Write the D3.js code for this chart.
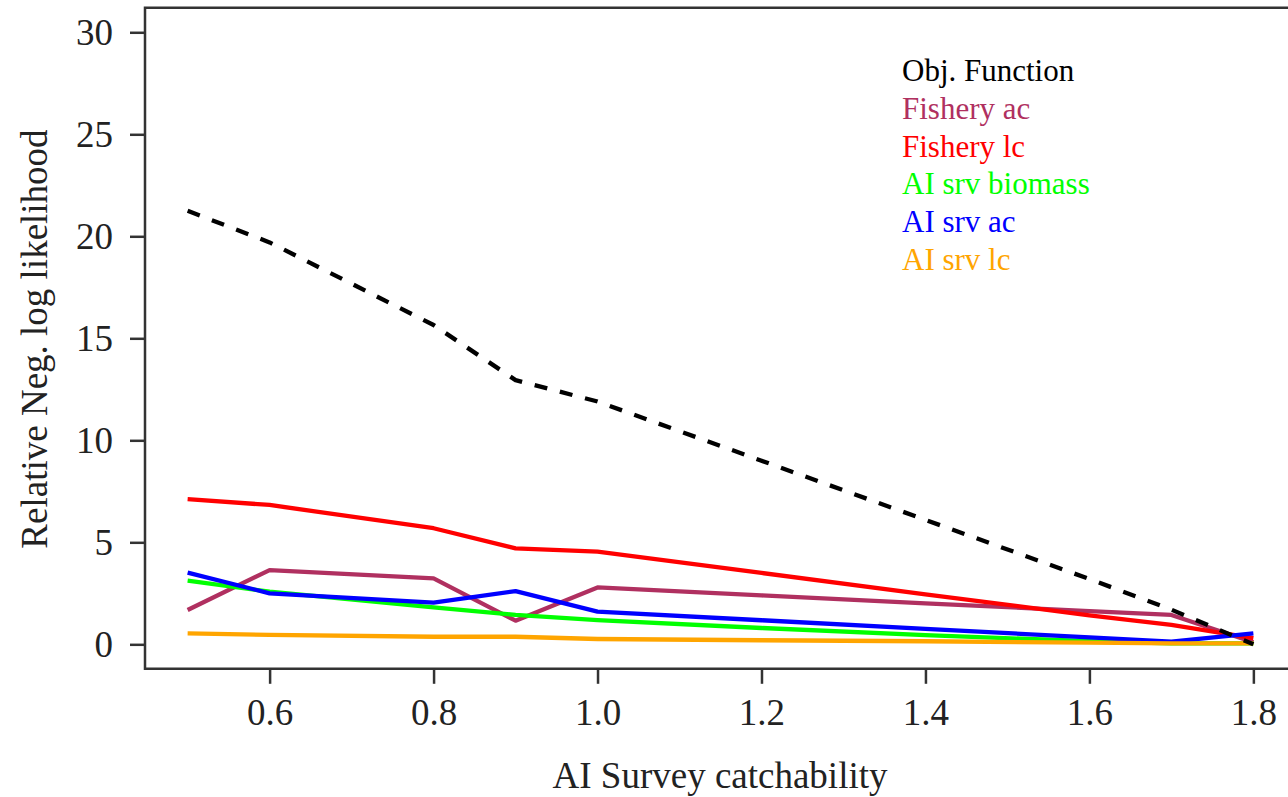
<!DOCTYPE html>
<html>
<head>
<meta charset="utf-8">
<script src="https://cdn.jsdelivr.net/npm/d3@7"></script>
<style>
  body { margin: 0; background: #fff; }
  text { font-family: "Liberation Serif", "Times New Roman", serif; }
</style>
</head>
<body>
<svg id="chart"></svg>
<script>
// catchability values (x)
const catchability = [0.5, 0.6, 0.8, 0.9, 1.0, 1.2, 1.4, 1.6, 1.7, 1.8];

// likelihood components
const objFunction = [21.25, 19.7, 15.65, 12.95, 11.9, 9.0, 6.1, 3.2, 1.7, 0.0];
const fisheryAc = [1.68, 3.64, 3.23, 1.16, 2.79, 2.40, 2.01, 1.63, 1.44, 0.1];
const fisheryLc = [7.12, 6.83, 5.69, 4.7, 4.54, 3.5, 2.45, 1.42, 0.95, 0.3];
const srvBiomass = [3.12, 2.58, 1.81, 1.44, 1.19, 0.8, 0.45, 0.15, 0.05, 0.05];
const srvAc = [3.51, 2.5, 2.04, 2.61, 1.6, 1.18, 0.76, 0.34, 0.13, 0.54];
const srvLc = [0.54, 0.46, 0.37, 0.37, 0.26, 0.2, 0.15, 0.08, 0.05, 0.05];

const seriesNames = ["Obj. Function", "Fishery ac", "Fishery lc", "AI srv biomass", "AI srv ac", "AI srv lc"];
const seriesColors = ["#000000", "#B03060", "#FF0000", "#00FF00", "#0000FF", "#FFA500"];

const xTicks = [0.6, 0.8, 1.0, 1.2, 1.4, 1.6, 1.8];
const yTicks = [0, 5, 10, 15, 20, 25, 30];

const width = 1288;
const height = 797;

const svg = d3.select("#chart")
  .attr("width", width)
  .attr("height", height);

// R style plot region, 4% padding around data range
const x = d3.scaleLinear().domain([0.448, 1.852]).range([145, 1296]);
const y = d3.scaleLinear().domain([-1.2, 31.2]).range([668.8, 7.8]);

const allSeries = [objFunction, fisheryAc, fisheryLc, srvBiomass, srvAc, srvLc];

const line = d3.line()
  .x((d, i) => x(catchability[i]))
  .y(d => y(d));

// draw coloured lines first, dashed objective function on top
const order = [1, 2, 3, 4, 5, 0];
order.forEach(k => {
  svg.append("path")
    .attr("d", line(allSeries[k]))
    .attr("fill", "none")
    .attr("stroke", seriesColors[k])
    .attr("stroke-width", 4.3)
    .attr("stroke-linejoin", "round")
    .attr("stroke-dasharray", k === 0 ? "13,13" : null);
});

// box (right side falls outside the image)
const frame = svg.append("g")
  .attr("stroke", "#333")
  .attr("stroke-width", 2.5)
  .attr("fill", "none");
frame.append("path")
  .attr("d", `M${x.range()[1]},${y.range()[1]}H${x.range()[0]}V${y.range()[0]}H${x.range()[1]}`);

// x axis
const xAxis = d3.axisBottom(x)
  .tickValues(xTicks)
  .tickFormat(d3.format(".1f"))
  .tickSize(15)
  .tickPadding(15);

const gx = svg.append("g")
  .attr("transform", `translate(0,${y.range()[0]})`)
  .call(xAxis);
gx.select(".domain").remove();
gx.selectAll("line").attr("stroke", "#333").attr("stroke-width", 2.5);
gx.selectAll("text").attr("font-size", 37).attr("fill", "#222")
  .attr("font-family", "Liberation Serif");

// y axis
const yAxis = d3.axisLeft(y)
  .tickValues(yTicks)
  .tickSize(15)
  .tickPadding(17);

const gy = svg.append("g")
  .attr("transform", `translate(${x.range()[0]},0)`)
  .call(yAxis);
gy.select(".domain").remove();
gy.selectAll("line").attr("stroke", "#333").attr("stroke-width", 2.5);
gy.selectAll("text").attr("font-size", 37).attr("fill", "#222")
  .attr("font-family", "Liberation Serif");

// axis titles
svg.append("text")
  .attr("x", 720)
  .attr("y", 788)
  .attr("text-anchor", "middle")
  .attr("font-size", 37)
  .attr("fill", "#222")
  .text("AI Survey catchability");

svg.append("text")
  .attr("transform", "translate(47,339) rotate(-90)")
  .attr("text-anchor", "middle")
  .attr("font-size", 37)
  .attr("fill", "#222")
  .text("Relative Neg. log likelihood");

// legend, text only
svg.append("g")
  .selectAll("text")
  .data(seriesNames)
  .enter()
  .append("text")
  .attr("x", 902)
  .attr("y", (d, i) => 81 + i * 37.8)
  .attr("font-size", 31)
  .attr("fill", (d, i) => seriesColors[i])
  .text(d => d);
</script>
</body>
</html>
